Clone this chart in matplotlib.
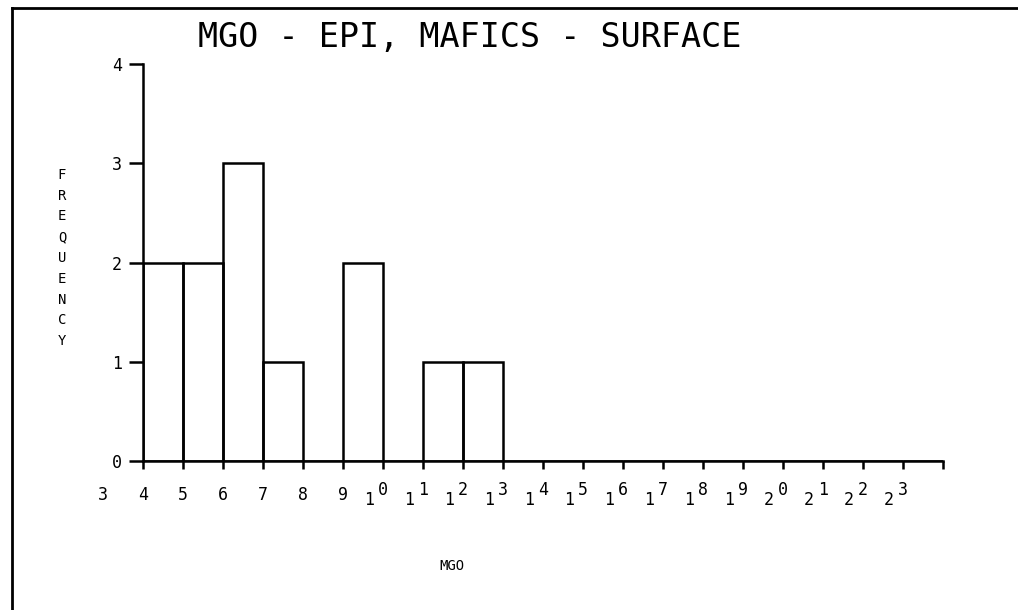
import matplotlib.pyplot as plt
import matplotlib.transforms as mtransforms

# MGO histogram, bins of width 1 starting at 4
bin_left = [4, 5, 6, 7, 8, 9, 10, 11, 12, 13, 14, 15, 16, 17, 18, 19, 20, 21, 22, 23]
counts = [2, 2, 3, 1, 0, 2, 0, 1, 1, 0, 0, 0, 0, 0, 0, 0, 0, 0, 0, 0]
x_labels = list(range(3, 24))
y_ticks = [0, 1, 2, 3, 4]

mono = "DejaVu Sans Mono"

fig = plt.figure(figsize=(10.18, 6.10), dpi=100)
ax = fig.add_axes([143 / 1018, 1 - 461 / 610, 800 / 1018, 397 / 610])

ax.bar(bin_left, counts, width=1, align="edge", fill=False,
       edgecolor="black", linewidth=1.8)

ax.set_xlim(4, 24)
ax.set_ylim(0, 4)
for s in ["top", "right"]:
    ax.spines[s].set_visible(False)
for s in ["left", "bottom"]:
    ax.spines[s].set_linewidth(1.8)

ax.set_yticks(y_ticks)
ax.set_yticklabels([str(v) for v in y_ticks], fontfamily=mono, fontsize=12)
ax.tick_params(axis="y", direction="out", length=10, width=1.8, pad=5)

ax.set_xticks(bin_left + [24])
ax.set_xticklabels([])
ax.tick_params(axis="x", direction="out", length=6, width=1.8)

# plotter style x labels: two digit numbers have the first digit dropped
trans = mtransforms.blended_transform_factory(ax.transData, fig.transFigure)
ly = 1 - 495 / 610
for v in x_labels:
    s = str(v)
    if len(s) == 1:
        ax.text(v, ly, s, transform=trans, ha="center", va="center",
                fontfamily=mono, fontsize=12, clip_on=False)
    else:
        ax.annotate(s[0], (v, ly), xycoords=trans, xytext=(-10, -3.5),
                    textcoords="offset points", ha="center", va="center",
                    fontfamily=mono, fontsize=12)
        ax.annotate(s[1], (v, ly), xycoords=trans, xytext=(0, 3.5),
                    textcoords="offset points", ha="center", va="center",
                    fontfamily=mono, fontsize=12)

fig.text(470 / 1018, 1 - 37 / 610, "MGO - EPI, MAFICS - SURFACE",
         ha="center", va="center", fontfamily=mono, fontsize=24)
fig.text(62 / 1018, 1 - 258 / 610, "\n".join("FREQUENCY"),
         ha="center", va="center", fontfamily=mono, fontsize=10,
         linespacing=1.62)
fig.text(452 / 1018, 1 - 566 / 610, "MGO", ha="center", va="center",
         fontfamily=mono, fontsize=10)

# page frame (left and top edges)
fig.add_artist(plt.Line2D([12 / 1018, 12 / 1018], [0, 1 - 8 / 610],
                          transform=fig.transFigure, color="black", lw=2))
fig.add_artist(plt.Line2D([12 / 1018, 1], [1 - 8 / 610, 1 - 8 / 610],
                          transform=fig.transFigure, color="black", lw=2))

fig.savefig("out.png", dpi=100)
